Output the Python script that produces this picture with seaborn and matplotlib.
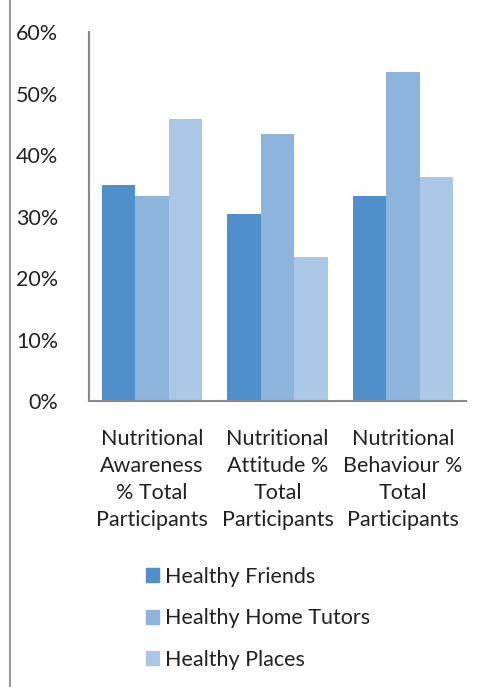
import pandas as pd
import matplotlib
matplotlib.use("Agg")
import matplotlib.pyplot as plt
import seaborn as sns
from matplotlib.lines import Line2D

# Datos del gráfico
categorias = ["Nutritional\nAwareness\n% Total\nParticipants",
              "Nutritional\nAttitude %\nTotal\nParticipants",
              "Nutritional\nBehaviour %\nTotal\nParticipants"]
series = ["Healthy Friends", "Healthy Home Tutors", "Healthy Places"]
friends = [0.351, 0.305, 0.334]
tutors = [0.334, 0.435, 0.535]
places = [0.459, 0.235, 0.364]
cores = ["#4F8FCC", "#8CB4DC", "#AAC8E5"]

df = pd.DataFrame({
    "cat": categorias * 3,
    "serie": [s for s in series for _ in categorias],
    "valor": friends + tutors + places,
})

sns.set_style("white")
plt.rcParams["font.family"] = ["Lato", "DejaVu Sans"]

fig = plt.figure(figsize=(4.89, 6.87), dpi=100)
ax = fig.add_axes([0.182, 0.416, 0.771, 0.537])
sns.barplot(data=df, x="cat", y="valor", hue="serie", palette=cores,
            width=0.8, saturation=1, ax=ax, legend=False, linewidth=0)

ax.set_ylim(0, 0.6)
ax.set_yticks([0, 0.1, 0.2, 0.3, 0.4, 0.5, 0.6])
ax.set_yticklabels(["0%", "10%", "20%", "30%", "40%", "50%", "60%"])
ax.set_xlabel("")
ax.set_ylabel("")
ax.tick_params(axis="y", length=0, pad=22, labelsize=15.5, colors="#222222")
ax.tick_params(axis="x", length=0, pad=20, labelsize=15.5, colors="#222222")
for lbl in ax.get_xticklabels():
    lbl.set_linespacing(1.43)
    lbl.set_verticalalignment("top")
for s in ["top", "right"]:
    ax.spines[s].set_visible(False)
for s in ["left", "bottom"]:
    ax.spines[s].set_color("#888888")
    ax.spines[s].set_linewidth(1.5)

# Moldura esquerda
fig.add_artist(Line2D([10 / 489, 10 / 489], [0, 1], color="#999999", lw=1.5))

handles = [plt.Rectangle((0, 0), 1, 1, color=c) for c in cores]
fig.legend(handles, series, loc="upper left", bbox_to_anchor=(0.258, 0.203),
           frameon=False, fontsize=15.5, handlelength=0.62, handleheight=0.62,
           handletextpad=0.3, labelspacing=1.0, labelcolor="#222222")

fig.savefig("out.png", dpi=100)
